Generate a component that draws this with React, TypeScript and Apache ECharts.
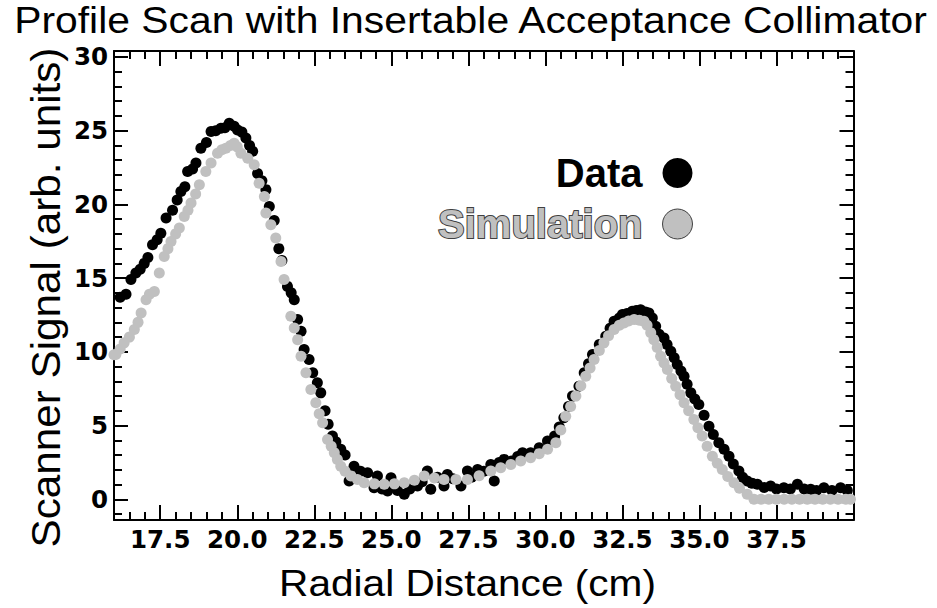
import React, { useEffect, useRef } from "react";
import * as echarts from "echarts";

const TITLE = "Profile Scan with Insertable Acceptance Collimator";
const X_NAME = "Radial Distance (cm)";
const Y_NAME = "Scanner Signal (arb. units)";
const SERIES_NAMES = ["Data", "Simulation"];

const X_MIN = 16;
const X_MAX = 40;
const Y_MIN = -1.4;
const Y_MAX = 30.4;
const xMajorTicks = [17.5, 20, 22.5, 25, 27.5, 30, 32.5, 35, 37.5];
const yMajorTicks = [0, 5, 10, 15, 20, 25, 30];
const X_MINOR_STEP = 0.5;
const Y_MINOR_STEP = 1;

// Measured data (black)
const dataPoints: [number, number][] = [
  [16.2, 13.7], [16.39, 13.9], [16.55, 14.9], [16.71, 15.35], [16.85, 15.6], [16.98, 16.0],
  [17.1, 16.4], [17.25, 17.27], [17.4, 17.6], [17.52, 18.05], [17.69, 19.07], [17.9, 19.6],
  [18.05, 20.3], [18.17, 20.87], [18.3, 21.2], [18.39, 22.23], [18.55, 22.4], [18.66, 22.8],
  [18.82, 23.8], [19.0, 24.2], [19.15, 24.94], [19.3, 25.0], [19.47, 25.16], [19.6, 25.2],
  [19.74, 25.5], [19.9, 25.3], [20.01, 25.05], [20.15, 24.9], [20.28, 24.5], [20.4, 24.0],
  [20.5, 23.6], [20.66, 22.1], [20.8, 21.6], [20.93, 21.0], [21.04, 19.86], [21.2, 18.9],
  [21.35, 17.0], [21.45, 16.2], [21.63, 14.44], [21.75, 14.0], [21.85, 13.54], [21.96, 12.19],
  [22.07, 11.4], [22.17, 10.16], [22.33, 9.48], [22.45, 8.58], [22.6, 7.9], [22.71, 7.22],
  [22.85, 6.0], [22.95, 5.1], [23.09, 4.29], [23.2, 3.9], [23.36, 3.39], [23.5, 3.0],
  [23.63, 1.24], [23.79, 2.25], [24.0, 1.9], [24.23, 1.81], [24.44, 0.79], [24.55, 1.58],
  [24.7, 0.7], [24.88, 0.56], [24.99, 1.47], [25.2, 0.6], [25.42, 0.34], [25.6, 0.7],
  [25.85, 0.9], [26.0, 1.2], [26.17, 1.92], [26.28, 0.68], [26.5, 1.5], [26.71, 0.9],
  [26.82, 1.69], [27.0, 1.4], [27.26, 0.9], [27.47, 1.92], [27.6, 1.5], [27.8, 2.03],
  [28.0, 1.9], [28.23, 2.37], [28.34, 1.24], [28.5, 2.5], [28.66, 2.71], [28.9, 2.6],
  [29.1, 2.9], [29.26, 3.16], [29.52, 3.16], [29.8, 3.5], [30.07, 3.95], [30.3, 4.3],
  [30.45, 4.9], [30.6, 5.53], [30.75, 6.3], [30.88, 7.0], [31.09, 7.67], [31.26, 8.58],
  [31.4, 9.2], [31.53, 9.82], [31.75, 10.5], [31.96, 11.06], [32.1, 11.6], [32.23, 12.07],
  [32.4, 12.3], [32.5, 12.53], [32.65, 12.6], [32.82, 12.75], [32.95, 12.8], [33.09, 12.86],
  [33.25, 12.7], [33.36, 12.64], [33.47, 12.3], [33.58, 11.73], [33.69, 11.2], [33.85, 10.94],
  [33.95, 10.5], [34.07, 10.04], [34.18, 9.6], [34.28, 9.14], [34.4, 8.7], [34.5, 8.35],
  [34.6, 7.8], [34.72, 7.22], [34.85, 6.8], [34.98, 6.43], [35.15, 5.7], [35.31, 4.96],
  [35.45, 4.4], [35.63, 3.84], [35.8, 3.4], [35.96, 2.93], [36.1, 2.4], [36.28, 1.92],
  [36.4, 1.5], [36.55, 1.24], [36.7, 1.1], [36.88, 1.02], [37.1, 0.8], [37.31, 0.9],
  [37.5, 0.7], [37.74, 0.79], [37.95, 0.7], [38.18, 1.02], [38.4, 0.7], [38.61, 0.68],
  [38.8, 0.6], [39.04, 0.79], [39.3, 0.6], [39.58, 0.79], [39.8, 0.6],
];

// Simulation (grey)
const simPoints: [number, number][] = [
  [16.0, 9.8], [16.06, 9.82], [16.2, 10.2], [16.33, 10.61], [16.5, 11.0], [16.66, 11.51],
  [16.78, 12.0], [16.88, 12.64], [17.04, 13.54], [17.15, 13.9], [17.31, 14.1], [17.47, 15.35],
  [17.63, 16.47], [17.75, 17.0], [17.85, 17.49], [18.0, 18.0], [18.12, 18.4], [18.28, 19.18],
  [18.4, 19.6], [18.5, 20.09], [18.65, 20.7], [18.77, 21.33], [18.98, 22.23], [19.15, 22.8],
  [19.36, 23.47], [19.5, 23.7], [19.63, 23.81], [19.78, 24.0], [19.9, 24.15], [20.0, 23.9],
  [20.12, 23.47], [20.34, 23.13], [20.55, 22.68], [20.71, 21.44], [20.88, 20.53], [20.93, 19.41],
  [21.09, 18.62], [21.25, 17.72], [21.42, 16.13], [21.52, 14.9], [21.74, 12.41], [21.85, 11.62],
  [21.96, 10.83], [22.07, 9.7], [22.23, 8.58], [22.39, 7.45], [22.55, 6.55], [22.66, 5.8],
  [22.77, 5.19], [22.93, 4.06], [23.05, 3.6], [23.15, 3.16], [23.25, 2.7], [23.36, 2.25],
  [23.5, 1.9], [23.69, 1.58], [23.9, 1.35], [24.12, 1.13], [24.45, 1.05], [24.77, 1.02],
  [25.1, 1.05], [25.42, 1.13], [25.75, 1.3], [26.07, 1.58], [26.4, 1.45], [26.71, 1.35],
  [27.1, 1.35], [27.47, 1.35], [27.85, 1.6], [28.23, 1.92], [28.55, 2.15], [28.88, 2.37],
  [29.2, 2.6], [29.52, 2.82], [29.8, 3.1], [30.07, 3.39], [30.34, 3.84], [30.5, 4.7],
  [30.66, 5.64], [30.82, 6.3], [30.99, 7.0], [31.15, 7.7], [31.31, 8.35], [31.45, 8.9],
  [31.58, 9.48], [31.75, 10.1], [31.9, 10.61], [32.05, 11.1], [32.23, 11.51], [32.4, 11.8],
  [32.55, 11.96], [32.7, 12.1], [32.88, 12.19], [33.05, 12.15], [33.2, 12.07], [33.3, 11.8],
  [33.42, 11.29], [33.52, 10.83], [33.63, 10.3], [33.74, 9.7], [33.85, 9.25], [33.96, 8.8],
  [34.1, 8.2], [34.23, 7.67], [34.37, 7.1], [34.5, 6.55], [34.65, 6.0], [34.82, 5.42],
  [34.95, 4.85], [35.09, 4.29], [35.25, 3.6], [35.42, 2.93], [35.58, 2.45], [35.74, 2.03],
  [35.92, 1.55], [36.12, 1.13], [36.3, 0.75], [36.55, 0.34], [36.77, 0.0], [37.0, 0.0],
  [37.25, 0.0], [37.5, 0.0], [37.75, 0.0], [38.0, 0.0], [38.25, 0.0], [38.5, 0.0],
  [38.75, 0.0], [39.0, 0.0], [39.25, 0.0], [39.5, 0.0], [39.75, 0.0], [39.9, 0.0],
];

function minorValues(min: number, max: number, step: number, majors: number[]) {
  const out: number[] = [];
  const start = Math.ceil(min / step);
  const end = Math.floor(max / step);
  for (let k = start; k <= end; k++) {
    const v = Math.round(k * step * 1000) / 1000;
    if (v <= min || v >= max) continue;
    if (majors.some((m) => Math.abs(m - v) < 1e-6)) continue;
    out.push(v);
  }
  return out;
}

const TICK_FONT = "'DejaVu Sans', sans-serif";
const TEXT_FONT = "'Liberation Sans', Arial, sans-serif";
const LINE = { color: "#000", width: 2 };

function xAxisDef(position: "bottom" | "top", ticks: number[], len: number, withLabels: boolean, withLine: boolean) {
  return {
    type: "value",
    position,
    min: X_MIN,
    max: X_MAX,
    axisLine: { show: withLine, onZero: false, lineStyle: LINE },
    axisTick: { show: true, inside: true, length: len, customValues: ticks, lineStyle: LINE },
    axisLabel: withLabels
      ? {
          show: true,
          customValues: xMajorTicks,
          formatter: (v: number) => v.toFixed(1),
          fontFamily: TICK_FONT,
          fontWeight: "bold",
          fontSize: 24.5,
          color: "#000",
          margin: 7,
        }
      : { show: false },
    splitLine: { show: false },
    minorTick: { show: false },
  };
}

function yAxisDef(position: "left" | "right", ticks: number[], len: number, withLabels: boolean, withLine: boolean) {
  return {
    type: "value",
    position,
    min: Y_MIN,
    max: Y_MAX,
    axisLine: { show: withLine, onZero: false, lineStyle: LINE },
    axisTick: { show: true, inside: true, length: len, customValues: ticks, lineStyle: LINE },
    axisLabel: withLabels
      ? {
          show: true,
          customValues: yMajorTicks,
          formatter: (v: number) => String(v),
          fontFamily: TICK_FONT,
          fontWeight: "bold",
          fontSize: 24.5,
          color: "#000",
          margin: 6,
        }
      : { show: false },
    splitLine: { show: false },
    minorTick: { show: false },
  };
}

export default function App() {
  const ref = useRef<HTMLDivElement>(null);
  useEffect(() => {
    document.body.style.margin = "0";
    if (!ref.current) return;
    const chart = echarts.init(ref.current, null, { renderer: "svg" });
    const xMinor = minorValues(X_MIN, X_MAX, X_MINOR_STEP, xMajorTicks);
    const yMinor = minorValues(Y_MIN, Y_MAX, Y_MINOR_STEP, yMajorTicks);
    chart.setOption({
      animation: false,
      backgroundColor: "#fff",
      grid: { left: 114, right: 83.5, top: 51, bottom: 88, containLabel: false },
      xAxis: [
        xAxisDef("bottom", xMajorTicks, 15, true, true),
        xAxisDef("bottom", xMinor, 8, false, false),
        xAxisDef("top", xMajorTicks, 15, false, true),
        xAxisDef("top", xMinor, 8, false, false),
      ],
      yAxis: [
        yAxisDef("left", yMajorTicks, 14, true, true),
        yAxisDef("left", yMinor, 8, false, false),
        yAxisDef("right", yMajorTicks, 14, false, true),
        yAxisDef("right", yMinor, 8, false, false),
      ],
      legend: {
        show: true,
        orient: "vertical",
        align: "right",
        right: 239,
        top: 148,
        itemWidth: 60,
        itemHeight: 30,
        itemGap: 10,
        selectedMode: false,
        textStyle: { fontFamily: TEXT_FONT, fontWeight: "bold", fontSize: 40, lineHeight: 30, color: "#000" },
        data: [
          { name: SERIES_NAMES[0], icon: "circle", itemStyle: { color: "#000" } },
          {
            name: SERIES_NAMES[1],
            icon: "circle",
            itemStyle: { color: "#c0c0c0", borderColor: "#404040", borderWidth: 1 },
            textStyle: { color: "#c0c0c0", textBorderColor: "#404040", textBorderWidth: 2 },
          },
        ],
      },
      graphic: [
        {
          type: "text",
          x: 470.5,
          y: 20,
          scaleX: 1.104,
          silent: true,
          style: { text: TITLE, font: `37px ${TEXT_FONT}`, fill: "#000", align: "center", verticalAlign: "middle" },
        },
        {
          type: "text",
          x: 467.5,
          y: 583.5,
          scaleX: 1.098,
          silent: true,
          style: { text: X_NAME, font: `37px ${TEXT_FONT}`, fill: "#000", align: "center", verticalAlign: "middle" },
        },
        {
          type: "text",
          x: 45.5,
          y: 297.5,
          rotation: Math.PI / 2,
          scaleX: 1.03,
          silent: true,
          style: { text: Y_NAME, font: `41px ${TEXT_FONT}`, fill: "#000", align: "center", verticalAlign: "middle" },
        },
      ],
      series: [
        {
          name: SERIES_NAMES[0],
          type: "scatter",
          xAxisIndex: 0,
          yAxisIndex: 0,
          data: dataPoints,
          symbol: "circle",
          symbolSize: 11,
          itemStyle: { color: "#000", opacity: 1 },
          z: 2,
        },
        {
          name: SERIES_NAMES[1],
          type: "scatter",
          xAxisIndex: 0,
          yAxisIndex: 0,
          data: simPoints,
          symbol: "circle",
          symbolSize: 11,
          itemStyle: { color: "#c0c0c0", opacity: 1 },
          z: 3,
        },
      ],
    });
    return () => chart.dispose();
  }, []);
  return <div ref={ref} style={{ width: 937, height: 608 }} />;
}
